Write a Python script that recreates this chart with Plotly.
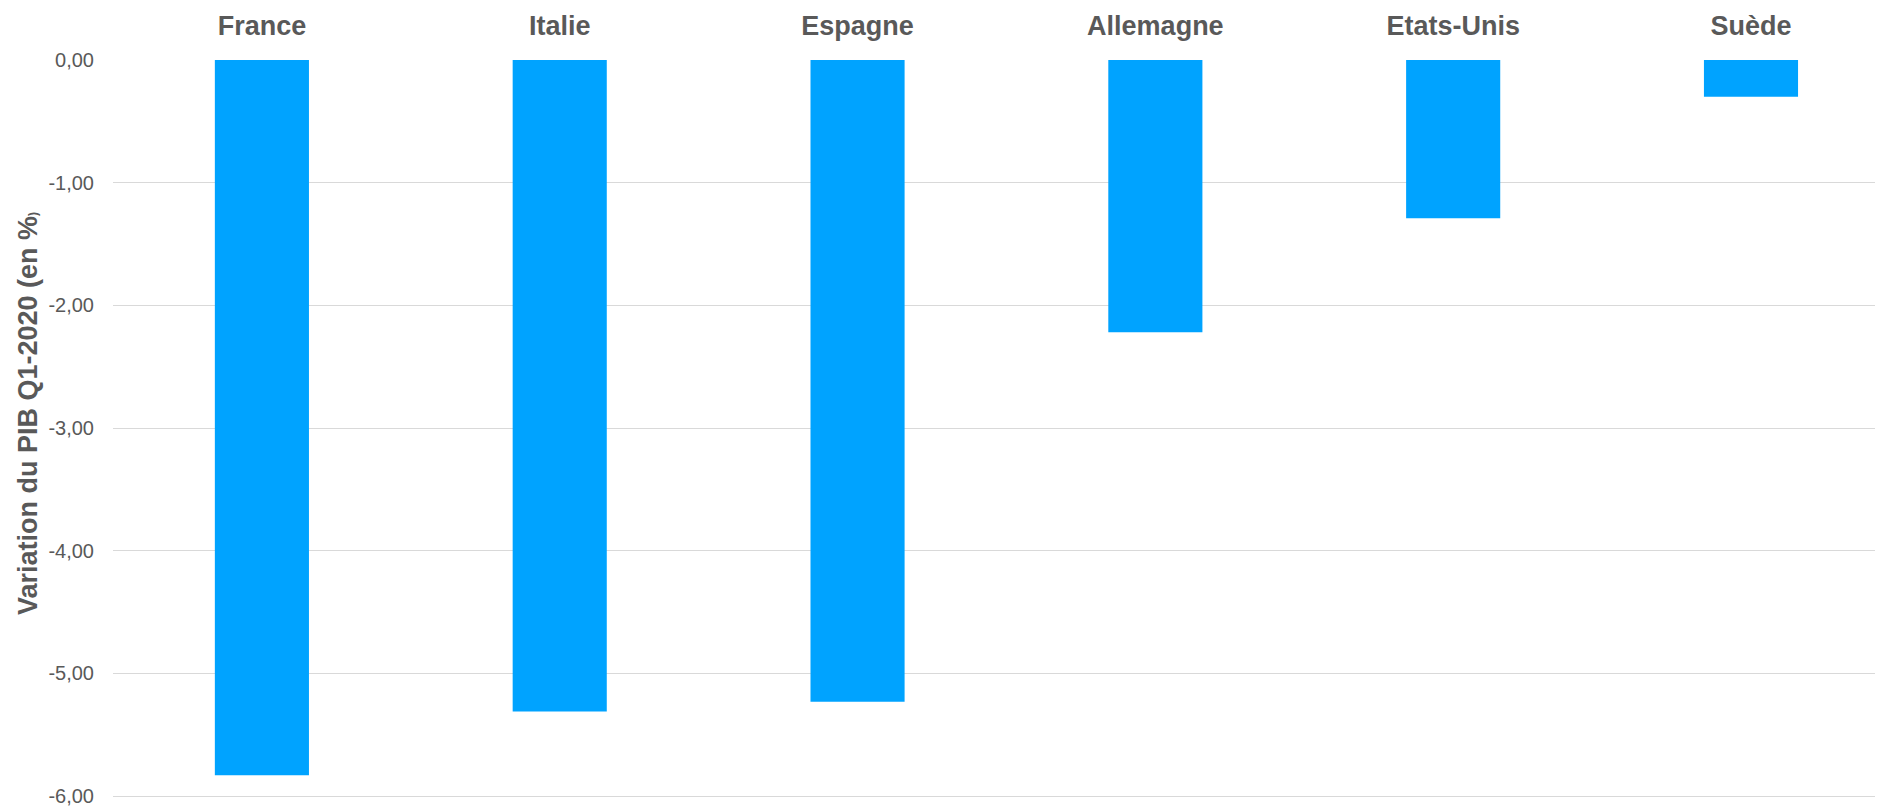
import plotly.graph_objects as go

countries = ["France", "Italie", "Espagne", "Allemagne", "Etats-Unis", "Suède"]
gdp_change = [-5.83, -5.31, -5.23, -2.22, -1.29, -0.30]
y_ticks = [0, -1, -2, -3, -4, -5, -6]
y_tick_labels = ["0,00", "-1,00", "-2,00", "-3,00", "-4,00", "-5,00", "-6,00"]

# page has an 8px body margin
OFF = 8
W, H = 1883 - OFF, 808 - OFF
ML, MT = 113 - OFF, 60 - OFF
MR = 0
Y0_PAGE, Y6_PAGE = 60, 796
unit = (Y6_PAGE - Y0_PAGE) / 6.0
y_lo = -6.04
plot_bottom_page = Y0_PAGE + (-y_lo) * unit
MB = 808 - plot_bottom_page
pw = W - ML - MR
ph = H - MT - MB

fig = go.Figure(go.Bar(
    x=countries, y=gdp_change,
    marker=dict(color="#00A3FF", line=dict(width=0)),
    width=0.316,
))

font_family = "Liberation Sans, Arial, sans-serif"
fig.update_layout(
    width=W, height=H,
    margin=dict(l=ML, r=MR, t=MT, b=MB, pad=0),
    paper_bgcolor="white", plot_bgcolor="white",
    showlegend=False,
    font=dict(family=font_family, color="#595959"),
    xaxis=dict(
        side="top", range=[-0.5, (1883 - 262) / 297.8], showgrid=False, zeroline=False,
        showline=False, ticks="",
        tickfont=dict(size=27, family=font_family, color="#595959", weight="bold"),
        ticklabelstandoff=19,
    ),
    yaxis=dict(
        range=[y_lo, 0], tickvals=y_ticks, ticktext=y_tick_labels,
        showgrid=True, gridcolor="#d9d9d9", gridwidth=1,
        zeroline=False, showline=False, ticks="", automargin=False,
        tickfont=dict(size=20, family=font_family, color="#595959"),
        ticklabelstandoff=18,
    ),
    annotations=[dict(
        text="Variation du PIB Q1-2020 (en %<span style='font-size:12px'>)</span>",
        xref="paper", yref="paper",
        x=(28 - 113) / pw, y=(plot_bottom_page - 414) / ph,
        xanchor="center", yanchor="middle", textangle=-90, showarrow=False,
        font=dict(size=27, family=font_family, color="#595959", weight="bold"),
    )],
)

fig.write_html("out.html")
